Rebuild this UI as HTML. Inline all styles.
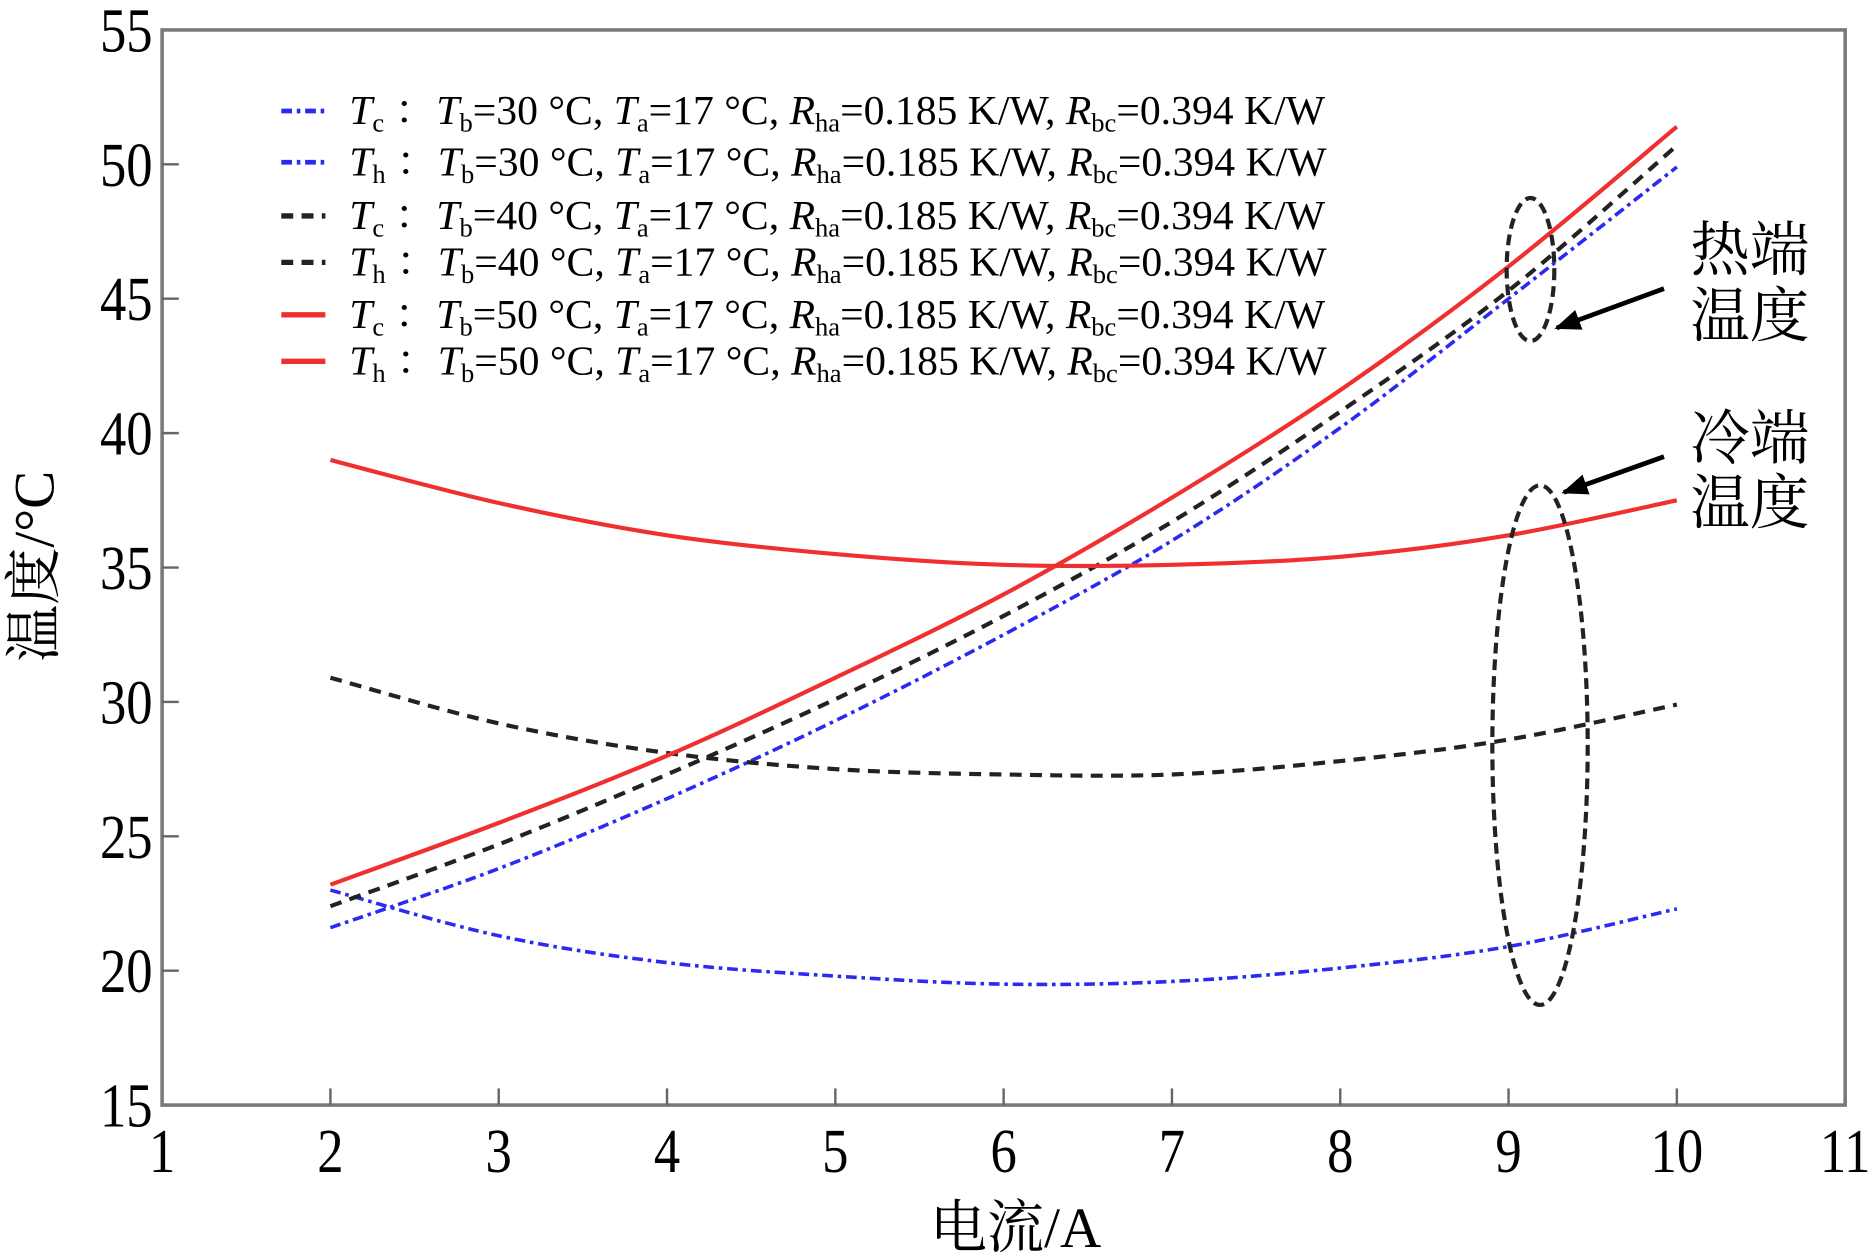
<!DOCTYPE html>
<html><head><meta charset="utf-8"><style>
html,body{margin:0;padding:0;background:#fff;}
svg{display:block;font-family:"Liberation Serif","Noto Serif CJK SC",serif;}
</style></head><body>
<svg id="chart" width="1869" height="1259" viewBox="0 0 1568 1056" xmlns="http://www.w3.org/2000/svg">
<g id="plot"></g>
</svg>
<script>
const xs = [2,3,4,5,6,7,8,9,10];
const blueTc = [23.0,21.3,20.3,19.8,19.5,19.6,20.1,20.9,22.3];
const blueTh = [21.6,23.8,26.4,29.3,32.5,36.0,40.2,45.0,49.9];
const blackTc = [30.9,29.2,28.1,27.5,27.3,27.3,27.8,28.6,29.9];
const blackTh = [22.4,24.7,27.3,30.1,33.2,36.7,40.8,45.3,50.7];
const redTc = [39.0,37.4,36.2,35.5,35.1,35.1,35.4,36.2,37.5];
const redTh = [23.2,25.5,28.0,30.9,34.0,37.6,41.6,46.2,51.4];
const xTicks = [1,2,3,4,5,6,7,8,9,10,11];
const yTicks = [15,20,25,30,35,40,45,50,55];
const legendLabels = ["30","30","40","40","50","50"];

const NS="http://www.w3.org/2000/svg";
const g=document.getElementById('plot');
const L=136,R=1548,T=25,B=927;
const sx=v=>L+(v-1)/(10)*(R-L);
const sy=v=>B-(v-15)/40*(B-T);
function mk(tag,attrs,parent){const e=document.createElementNS(NS,tag);for(const k in attrs)e.setAttribute(k,attrs[k]);(parent||g).appendChild(e);return e;}

let frame=mk('rect',{x:L,y:T,width:R-L,height:B-T,fill:'none',stroke:'#7a7a7a','stroke-width':3});



xTicks.forEach(t=>{
  if(t>1&&t<11){let tk=mk('line',{x1:sx(t),x2:sx(t),y1:B,y2:B-14,stroke:'#666','stroke-width':2});
  
  }
  let tx=mk('text',{x:0,y:0,'font-size':48,'text-anchor':'middle',transform:`translate(${sx(t)},${B+56}) scale(0.92,1.1)`});
  tx.textContent=t;
  
  
});
yTicks.forEach(t=>{
  if(t>15&&t<55){let tk=mk('line',{x1:L,x2:L+14,y1:sy(t),y2:sy(t),stroke:'#666','stroke-width':2});
  
  }
  let tx=mk('text',{x:0,y:0,'font-size':48,'text-anchor':'end',transform:`translate(${L-8},${sy(t)+18}) scale(0.92,1.1)`});
  tx.textContent=t;
  
  
});
let xl=mk('text',{x:852,y:1046,'font-size':48,'text-anchor':'middle'});
xl.textContent='电流/A';


let yl=mk('text',{x:0,y:0,'font-size':48,'text-anchor':'middle',transform:'translate(45,475) rotate(-90)'});
yl.textContent='温度/°C';



function pathD(vals){
  const p=xs.map((x,i)=>[sx(x),sy(vals[i])]);
  let d=`M${p[0][0]},${p[0][1]}`;
  for(let i=0;i<p.length-1;i++){
    const p0=p[Math.max(0,i-1)],p1=p[i],p2=p[i+1],p3=p[Math.min(p.length-1,i+2)];
    const c1=[p1[0]+(p2[0]-p0[0])/6,p1[1]+(p2[1]-p0[1])/6];
    const c2=[p2[0]-(p3[0]-p1[0])/6,p2[1]-(p3[1]-p1[1])/6];
    d+=` C${c1[0]},${c1[1]} ${c2[0]},${c2[1]} ${p2[0]},${p2[1]}`;
  }
  return d;
}
const styles={
  blue:{stroke:'#2a2af0',dash:'9,4,3,4',w:3},
  black:{stroke:'#222',dash:'10,7',w:3.5},
  red:{stroke:'#f03030',dash:'',w:3.5}
};
[[blueTc,'blue','blue-tc-line'],[blueTh,'blue','blue-th-line'],[blackTc,'black','black-tc-line'],[blackTh,'black','black-th-line'],[redTc,'red','red-tc-line'],[redTh,'red','red-th-line']].forEach(([v,s,n])=>{
  const st=styles[s];
  let p=mk('path',{d:pathD(v),fill:'none',stroke:st.stroke,'stroke-width':st.w,'stroke-dasharray':st.dash});
  
  
});

// legend
const legStyles=['blue','blue','black','black','red','red'];
const legY=[93,136,181,220,264,303];
const subs=['c','h','c','h','c','h'];
legendLabels.forEach((lb,i)=>{
  const st=styles[legStyles[i]];
  let ln=mk('line',{x1:236,x2:273,y1:legY[i],y2:legY[i],stroke:st.stroke,'stroke-width':st.w+1,'stroke-dasharray':st.dash});
  
  
  let tx=mk('text',{x:0,y:0,'font-size':33,transform:`translate(293,${legY[i]+11}) scale(1.06,1.05)`});
  tx.innerHTML=`<tspan font-style="italic">T</tspan><tspan font-size="21" dy="6">${subs[i]}</tspan><tspan dy="-6"> ：</tspan><tspan font-style="italic">T</tspan><tspan font-size="21" dy="6">b</tspan><tspan dy="-6">=${lb} °C, </tspan><tspan font-style="italic">T</tspan><tspan font-size="21" dy="6">a</tspan><tspan dy="-6">=17 °C, </tspan><tspan font-style="italic">R</tspan><tspan font-size="21" dy="6">ha</tspan><tspan dy="-6">=0.185 K/W, </tspan><tspan font-style="italic">R</tspan><tspan font-size="21" dy="6">bc</tspan><tspan dy="-6">=0.394 K/W</tspan>`;
  
  
});

// annotations
let e1=mk('ellipse',{cx:1284,cy:226,rx:20,ry:60,fill:'none',stroke:'#222','stroke-width':3.5,'stroke-dasharray':'9,5'});


let e2=mk('ellipse',{cx:1292,cy:625,rx:40,ry:218,fill:'none',stroke:'#222','stroke-width':3.5,'stroke-dasharray':'9,5'});


mk('defs',{}).innerHTML='<marker id="ah" markerWidth="22" markerHeight="18" refX="9" refY="4" orient="auto" markerUnits="userSpaceOnUse" viewBox="0 0 10 8"><path d="M0,0 L10,4 L0,8 Z" fill="#000"/></marker>';
let a1=mk('line',{x1:1396,x2:1306,y1:242,y2:275,stroke:'#000','stroke-width':4,'marker-end':'url(#ah)'});


let a2=mk('line',{x1:1396,x2:1312,y1:383,y2:413,stroke:'#000','stroke-width':4,'marker-end':'url(#ah)'});


[['热端',227,'hot-end-label'],['温度',282,'hot-end-label-2'],['冷端',385,'cold-end-label'],['温度',439,'cold-end-label-2']].forEach(([t,y,n])=>{
  let tx=mk('text',{x:1418,y:y,'font-size':50});
  tx.textContent=t;
  
  
});
</script>
</body></html>
